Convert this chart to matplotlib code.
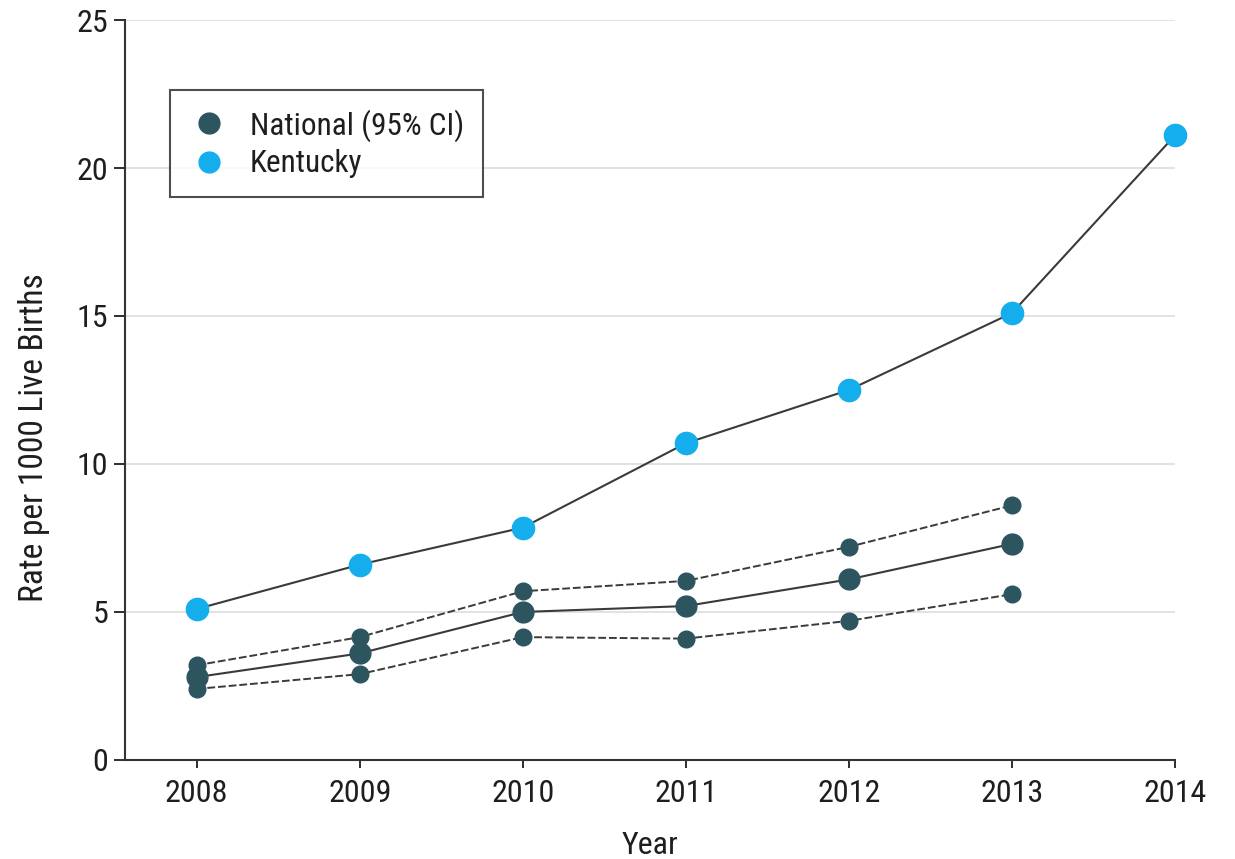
import matplotlib
matplotlib.use("Agg")
import matplotlib.pyplot as plt
from matplotlib import font_manager
from matplotlib.lines import Line2D

years = [2008, 2009, 2010, 2011, 2012, 2013, 2014]
kentucky = [5.1, 6.6, 7.85, 10.7, 12.5, 15.1, 21.1]

nat_years = [2008, 2009, 2010, 2011, 2012, 2013]
national = [2.8, 3.6, 5.0, 5.2, 6.1, 7.3]
national_upper = [3.2, 4.15, 5.7, 6.05, 7.2, 8.6]
national_lower = [2.4, 2.9, 4.15, 4.1, 4.7, 5.6]

yticks = [0, 5, 10, 15, 20, 25]

names = {f.name for f in font_manager.fontManager.ttflist}
fam = [f for f in ["Liberation Sans Narrow", "Roboto Condensed", "Open Sans"] if f in names]
plt.rcParams["font.family"] = fam + ["DejaVu Sans"]

c_ky = "#14aeed"
c_nat = "#2d5560"
c_line = "#3a3a3a"
c_text = "#1e1e1e"

fig = plt.figure(figsize=(12.35, 8.59), dpi=100)
ax = fig.add_axes([0.1012, 0.1153, 0.8502, 0.8614])

for yy in yticks:
    ax.axhline(yy, color="#dddddd", lw=1.2, zorder=0)

# confidence bounds
for band in (national_upper, national_lower):
    ax.plot(nat_years, band, color=c_line, lw=1.4, ls=(0, (4, 1.5)),
            marker="o", ms=12, mfc=c_nat, mec=c_nat, zorder=3)
ax.plot(nat_years, national, color=c_line, lw=1.5,
        marker="o", ms=15, mfc=c_nat, mec=c_nat, zorder=4)
ax.plot(years, kentucky, color=c_line, lw=1.5,
        marker="o", ms=16, mfc=c_ky, mec=c_ky, zorder=4, clip_on=False)

ax.set_xlim(2007.56, 2014)
ax.set_ylim(0, 25)
ax.set_xticks(years)
ax.set_yticks(yticks)
ax.tick_params(labelsize=23, colors=c_text, length=6, width=1.3, pad=8)
ax.tick_params(axis="y", length=8, pad=4)
for s in ("top", "right"):
    ax.spines[s].set_visible(False)
for s in ("left", "bottom"):
    ax.spines[s].set_linewidth(1.5)
    ax.spines[s].set_color("#333333")

ax.set_xlabel("Year", fontsize=23, color=c_text, labelpad=16)
ax.set_ylabel("Rate per 1000 Live Births", fontsize=24, color=c_text)
ax.yaxis.set_label_coords(-0.071, 0.435)

handles = [
    Line2D([], [], ls="none", marker="o", ms=15, mfc=c_nat, mec=c_nat),
    Line2D([], [], ls="none", marker="o", ms=15, mfc=c_ky, mec=c_ky),
]
leg = ax.legend(handles, ["National (95% CI)", "Kentucky"], loc="upper left",
                bbox_to_anchor=(0.043, 0.905), fontsize=22.5, frameon=True,
                fancybox=False, edgecolor="#222222", borderpad=0.6,
                handletextpad=0.65, labelspacing=0.25, handlelength=1.3,
                borderaxespad=0)
leg.get_frame().set_linewidth(1.5)
for t in leg.get_texts():
    t.set_color(c_text)

fig.savefig("out.png", dpi=100)
